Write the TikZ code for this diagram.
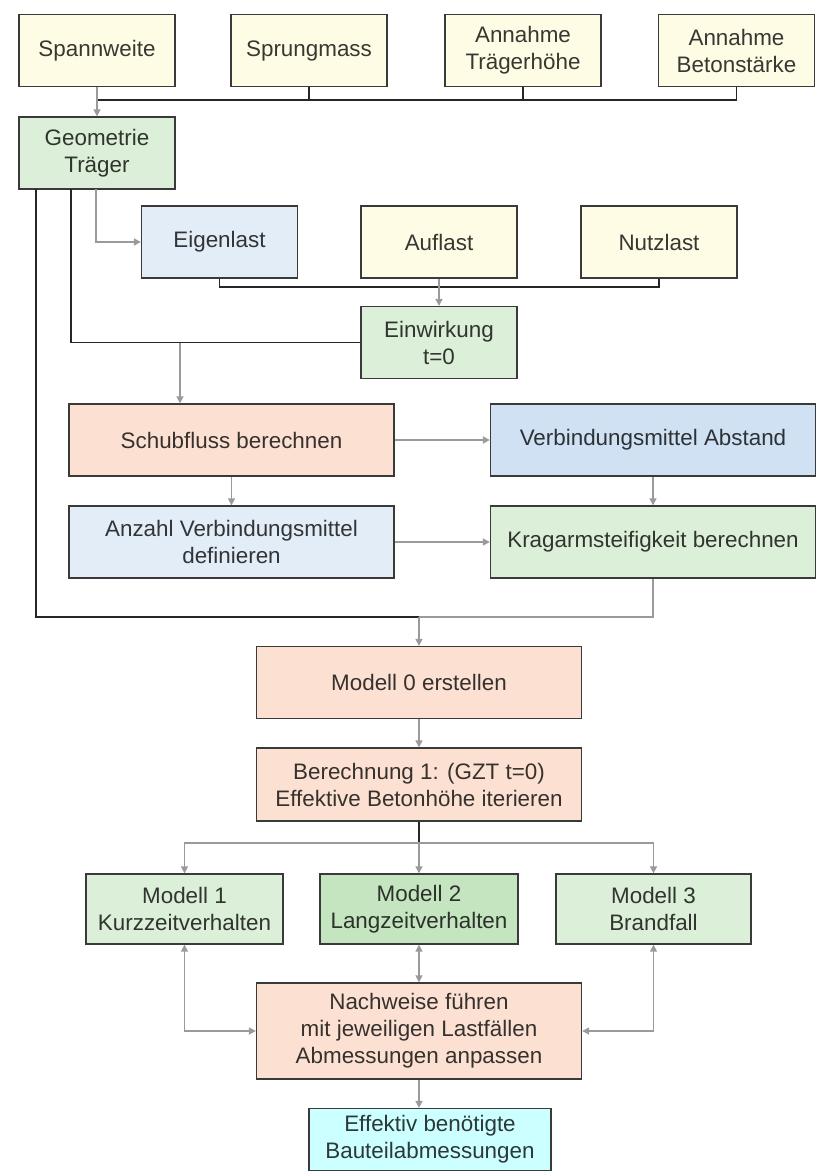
\documentclass[tikz,border=0pt]{standalone}
\usepackage{fontspec}
\setsansfont{Liberation Sans}
\usetikzlibrary{arrows.meta, positioning}
\definecolor{cyellow}{HTML}{FFFCE6}
\definecolor{cgreen}{HTML}{DCEFD8}
\definecolor{cgreendk}{HTML}{C4E5BF}
\definecolor{cblue}{HTML}{E2EDF8}
\definecolor{cbluedk}{HTML}{CFE1F3}
\definecolor{csalmon}{HTML}{FCE1D3}
\definecolor{ccyan}{HTML}{CCFFFF}
\definecolor{cedge}{HTML}{3A3A3A}
\definecolor{cgrey}{HTML}{9A9A9A}
\definecolor{cdark}{HTML}{262626}
\tikzset{
  every picture/.style={font=\sffamily\fontsize{11.2pt}{13.5pt}\selectfont, line width=0.65pt},
  box/.style={draw=cedge, fill=#1, text=#1!22!black, align=center, inner sep=2pt, minimum width=78pt, minimum height=36pt},
  box/.default=cyellow,
  wide/.style={minimum width=162.5pt},
  arrow/.style={-{Triangle[length=3.5pt, width=3.5pt]}, draw=cgrey, line width=0.75pt},
  twoway/.style={{Triangle[length=3.5pt, width=3.5pt]}-{Triangle[length=3.5pt, width=3.5pt]}, draw=cgrey, line width=0.75pt},
  link/.style={draw=cdark, line width=0.65pt},
  greylink/.style={draw=cgrey, line width=0.75pt},
}

\begin{document}
\begin{tikzpicture}[x=0.5pt, y=-0.5pt]
  \useasboundingbox (0,0) rectangle (831,1174);
  \node[box] (span) at (97,50.5) {Spannweite};
  \node[box] (sprung) at (309,50.5) {Sprungmass};
  \node[box] (hoehe) at (523,50.5) {Annahme\\Trägerhöhe};
  \node[box] (beton) at (736.5,50.5) {Annahme\\Betonstärke};
  \node[box=cgreen] (geo) at (97,153) {Geometrie\\Träger};
  \node[box=cblue] (eigen) at (219.5,242) {Eigenlast};
  \node[box] (auf) at (439,242) {Auflast};
  \node[box] (nutz) at (659,242) {Nutzlast};
  \node[box=cgreen] (ein) at (439,342.5) {Einwirkung\\t=0};
  \node[box=csalmon, wide] (schub) at (231.5,440) {Schubfluss berechnen};
  \node[box=cbluedk, wide] (vabst) at (653,440) {Verbindungsmittel Abstand};
  \node[box=cblue, wide] (anz) at (231.5,542) {Anzahl Verbindungsmittel\\definieren};
  \node[box=cgreen, wide] (krag) at (653,542) {Kragarmsteifigkeit berechnen};
  \node[box=csalmon, wide] (m0) at (419,682.5) {Modell 0 erstellen};
  \node[box=csalmon, wide, minimum height=36.5pt] (ber) at (419,784.5) {Berechnung 1: (GZT t=0)\\Effektive Betonhöhe iterieren};
  \node[box=cgreen, minimum width=98.5pt, minimum height=35pt] (m1) at (184.5,909) {Modell 1\\Kurzzeitverhalten};
  \node[box=cgreendk, minimum width=99pt, minimum height=35pt] (m2) at (419,909) {Modell 2\\Langzeitverhalten};
  \node[box=cgreen, minimum width=97.5pt, minimum height=35pt] (m3) at (653.5,909) {Modell 3\\Brandfall};
  \node[box=csalmon, wide, minimum height=48pt] (nach) at (419,1031) {Nachweise führen\\mit jeweiligen Lastfällen\\Abmessungen anpassen};
  \node[box=ccyan, minimum width=121pt, minimum height=31pt] (eff) at (430,1139.5) {Effektiv benötigte\\Bauteilabmessungen};
  \coordinate (topbus) at (97,100);
  \coordinate (g1) at (36,189);
  \coordinate (g2) at (71,189);
  \coordinate (g3) at (96,189);
  \coordinate (loadbus) at (439,287);
  \coordinate (j1) at (180,342.5);
  \coordinate (j2) at (419,617);
  \coordinate (j3) at (419,843);
  \draw[link] (topbus) -| (beton.south); \draw[link] (sprung.south) -- (sprung.south |- topbus); \draw[link] (hoehe.south) -- (hoehe.south |- topbus);
  \draw[arrow] (span) -- (geo);
  \draw[arrow] (g3) |- (eigen.west);
  \draw[link] (eigen.south) |- (loadbus) -| (nutz.south);
  \draw[arrow] (auf) -- (ein);
  \draw[link] (g2) |- (ein.west);
  \draw[arrow] (j1) -- (j1 |- schub.north);
  \draw[arrow] (schub) -- (vabst); \draw[arrow] (schub) -- (anz);
  \draw[arrow] (vabst) -- (krag); \draw[arrow] (anz) -- (krag);
  \draw[link] (g1) |- (j2);
  \draw[greylink] (krag.south) |- (j2);
  \draw[arrow] (j2) -- (j2 |- m0.north);
  \draw[arrow] (m0) -- (ber);
  \draw[link] (ber.south) -- (j3);
  \draw[arrow] (j3) -| (m1.north); \draw[arrow] (j3) -| (m3.north); \draw[arrow] (j3) -- (m2.north);
  \draw[twoway] (m1.south) |- (nach.west);
  \draw[twoway] (m2) -- (nach);
  \draw[twoway] (m3.south) |- (nach.east);
  \draw[arrow] (nach.south) -- (nach.south |- eff.north);
\end{tikzpicture}
\end{document}
